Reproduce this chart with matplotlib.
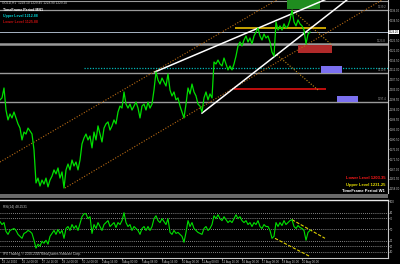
import numpy as np
import matplotlib
matplotlib.use("Agg")
import matplotlib.pyplot as plt
from matplotlib.patches import Rectangle
from matplotlib.ticker import FormatStrFormatter

# GOLD H1 closes, one value per sample
price = [1198.4, 1199.3, 1203.8, 1193.8, 1189.3, 1192.0, 1190.2, 1192.9, 1190.2, 1187.5,
         1185.6, 1180.2, 1183.8, 1182.9, 1185.6, 1184.3, 1182.9, 1175.7, 1160.7, 1162.9,
         1159.3, 1162.0, 1160.2, 1162.9, 1158.9, 1162.0, 1163.8, 1166.6, 1164.8, 1167.5,
         1162.9, 1165.7, 1158.4, 1166.6, 1169.3, 1166.6, 1171.1, 1168.4, 1170.2, 1166.6,
         1171.1, 1178.4, 1181.1, 1182.9, 1180.2, 1182.0, 1176.6, 1183.8, 1180.2, 1186.6,
         1182.9, 1179.3, 1185.6, 1187.5, 1188.4, 1184.7, 1186.6, 1189.3, 1187.5, 1192.9,
         1195.6, 1194.7, 1202.0, 1196.5, 1194.7, 1196.5, 1193.8, 1195.6, 1197.4, 1194.7,
         1190.2, 1195.6, 1196.5, 1193.8, 1197.4, 1194.7, 1196.5, 1202.9, 1211.1, 1207.4,
         1205.6, 1208.3, 1206.5, 1204.7, 1210.2, 1202.9, 1200.2, 1202.0, 1198.4, 1199.3,
         1195.6, 1192.9, 1190.2, 1196.5, 1203.8, 1201.1, 1205.6, 1202.0, 1200.2, 1196.5,
         1195.6, 1192.9, 1199.3, 1202.0, 1198.4, 1201.1, 1199.3, 1215.6, 1214.7, 1216.5,
         1214.7, 1213.8, 1217.4, 1214.7, 1212.0, 1213.8, 1212.0, 1214.7, 1218.3, 1222.9,
         1224.7, 1222.9, 1225.6, 1227.4, 1224.7, 1226.5, 1223.8, 1227.4, 1229.2, 1231.0,
         1227.4, 1225.6, 1228.3, 1226.5, 1227.4, 1224.7, 1220.1, 1218.3, 1233.8, 1230.1,
         1232.0, 1230.1, 1232.9, 1231.0, 1232.0, 1234.7, 1239.2, 1233.8, 1232.0, 1234.7,
         1232.9, 1232.0, 1230.1, 1223.8, 1228.3, 1229.2]

rsi = [64.0, 58.8, 62.3, 46.5, 41.3, 48.3, 50.0, 51.8, 48.3, 41.3,
       37.8, 34.3, 43.0, 44.8, 48.3, 46.5, 43.0, 30.8, 16.8, 23.8,
       20.3, 29.0, 25.5, 30.8, 23.8, 37.8, 43.0, 48.3, 41.3, 50.0,
       43.0, 48.3, 34.3, 51.8, 55.3, 48.3, 58.8, 51.8, 57.0, 48.3,
       60.5, 72.8, 78.0, 78.0, 69.3, 72.8, 43.0, 58.8, 51.8, 62.3,
       55.3, 48.3, 58.8, 62.3, 65.8, 55.3, 58.8, 62.3, 53.5, 62.3,
       58.8, 65.8, 79.8, 62.3, 55.3, 58.8, 48.3, 55.3, 51.8, 48.3,
       41.3, 51.8, 55.3, 48.3, 55.3, 48.3, 55.3, 69.3, 74.5, 65.8,
       62.3, 69.3, 64.0, 58.8, 69.3, 44.8, 41.3, 48.3, 43.0, 44.8,
       41.3, 37.8, 27.3, 44.8, 65.8, 55.3, 62.3, 51.8, 48.3, 44.8,
       43.0, 41.3, 51.8, 55.3, 48.3, 51.8, 58.8, 74.5, 69.3, 76.3,
       69.3, 65.8, 72.8, 67.5, 62.3, 65.8, 62.3, 69.3, 76.3, 69.3,
       72.8, 65.8, 62.3, 65.8, 58.8, 62.3, 55.3, 62.3, 58.8, 65.8,
       55.3, 51.8, 58.8, 55.3, 55.3, 48.3, 34.3, 37.8, 62.3, 55.3,
       62.3, 57.0, 65.8, 58.8, 62.3, 65.8, 67.5, 55.3, 51.8, 57.0,
       53.5, 51.8, 48.3, 30.8, 44.8, 48.3]

date_ticks = [1, 11, 21, 31, 41, 51, 61, 71, 81, 91, 101, 111, 121, 131, 141, 151]
date_labels = ["23 Jul 2010", "26 Jul 08:00", "27 Jul 16:00", "29 Jul 00:00",
               "30 Jul 08:00", "2 Aug 16:00", "4 Aug 00:00", "5 Aug 08:00",
               "6 Aug 16:00", "10 Aug 00:00", "11 Aug 08:00", "12 Aug 16:00",
               "16 Aug 00:00", "17 Aug 08:00", "18 Aug 16:00", "20 Aug 00:00"]

# levels
mn1_upper = 1212.88
mn1_lower = 1125.88
w1_upper = 1231.25
w1_lower = 1203.35
gray_levels = [1243.3, 1239.2, 1223.8, 1210.6, 1197.4]
gray_widths = [0.8, 0.9, 1.8, 1.0, 1.0]
last_price = 1229.20
rsi_levels = [80, 70, 50, 30, 20, 10]

# trend lines: (bar, price) pairs
wedge_upper = [(77.5, 1211.1), (161.0, 1243.3)]
wedge_lower = [(101.0, 1192.4), (171.5, 1242.4)]
chan_upper = [(0.0, 1170.2), (136.5, 1242.8)]
chan_lower = [(32.5, 1158.4), (191.0, 1243.75)]
fork_a = [(146.0, 1239.2), (166.0, 1223.3)]
fork_b = [(138.5, 1218.8), (159.0, 1202.9)]
rsi_line_a = [(146.0, 67.5), (162.5, 34.3)]
rsi_line_b = [(137.5, 34.3), (154.5, 2.8)]

# zones: (bar0, bar1, price0, price1, colour)
zones = [(143.5, 160.0, 1239.7, 1243.75, "#1f8c1f"),
         (149.0, 166.0, 1219.7, 1223.3, "#b02a2a"),
         (160.5, 171.0, 1210.6, 1213.8, "#7b70f0"),
         (168.5, 179.0, 1197.4, 1200.2, "#7b70f0")]

bg = "black"
fig = plt.figure(figsize=(4, 2.64), dpi=100, facecolor=bg)
ax = fig.add_axes([0, 1 - 193 / 264, 388 / 400, 193 / 264], facecolor=bg)
ax2 = fig.add_axes([0, 6 / 264, 388 / 400, 58 / 264], facecolor=bg)

x = np.arange(len(price))
xmax = 194

for i, (lv, lw) in enumerate(zip(gray_levels, gray_widths)):
    ax.axhline(lv, color="#9a9a9a", lw=lw, zorder=1)
    if i > 0:
        ax.text(xmax - 1, lv + 0.3, "%.1f" % lv, color="#9a9a9a", fontsize=1.8,
                ha="right", va="bottom")
ax.axhline(last_price, color="#a8b4c4", lw=0.7, zorder=1)
ax.hlines(mn1_upper, 42, xmax, color="#00b4b4", lw=0.9, linestyles=(0, (1, 1.2)), zorder=2)

for b0, b1, p0, p1, c in zones:
    ax.add_patch(Rectangle((b0, p0), b1 - b0, p1 - p0, color=c, lw=0, zorder=2))

ax.hlines(w1_upper, 117.5, 163, color="#e8c000", lw=1.2, zorder=3)
ax.hlines(w1_lower, 117, 163, color="#e01010", lw=1.2, zorder=3)


def ray(axis, pts, **kw):
    (x0, y0), (x1, y1) = pts
    s = (y1 - y0) / (x1 - x0)
    axis.plot([x0, 220], [y0, y0 + s * (220 - x0)], **kw)


ray(ax, chan_upper, color="#b86a14", lw=0.8, ls=(0, (1, 1.5)), zorder=2)
ray(ax, chan_lower, color="#b86a14", lw=0.8, ls=(0, (1, 1.5)), zorder=2)
ray(ax, wedge_upper, color="white", lw=1.1, zorder=4)
ray(ax, wedge_lower, color="white", lw=1.1, zorder=4)
for seg in (fork_a, fork_b):
    ax.plot([p[0] for p in seg], [p[1] for p in seg], color="#c8901c", lw=0.8,
            ls=(0, (1, 1.5)), zorder=3)

ax.plot(x, price, color="#00e000", lw=0.9, zorder=5)

ax.set_xlim(0, xmax)
ax.set_ylim(1156.13, 1243.75)
yt = [t for t in np.arange(1158.0, 1242.0, 4.5) if abs(t - last_price) > 2.5]
ax.yaxis.tick_right()
ax.set_yticks(yt)
ax.yaxis.set_major_formatter(FormatStrFormatter("%.2f"))
ax.tick_params(axis="y", colors="#c8c8c8", labelsize=2.0, length=1.0, width=0.5, pad=0.6,
               labelfontfamily="Liberation Sans")
ax.set_xticks([])
for s in ("top", "left", "bottom"):
    ax.spines[s].set_visible(False)
ax.spines["right"].set_color("#c8c8c8")
ax.spines["right"].set_linewidth(0.8)
ax.text(1.002, last_price, "%.2f" % last_price, transform=ax.get_yaxis_transform(),
        fontsize=2.0, color="black", va="center", ha="left", family="Liberation Sans",
        bbox=dict(boxstyle="square,pad=0.12", fc="white", ec="none"))

# RSI window
ax2.plot(np.arange(len(rsi)), rsi, color="#00e000", lw=0.8, zorder=3)
for lv in rsi_levels:
    ax2.axhline(lv, color="#b0b0b0", lw=0.6, ls=(0, (1, 1.5)), zorder=1)
for seg in (rsi_line_a, rsi_line_b):
    ax2.plot([p[0] for p in seg], [p[1] for p in seg], color="#e0d000", lw=0.8,
             ls=(0, (3, 1.5)), zorder=2)
ax2.set_xlim(0, xmax)
ax2.set_ylim(-0.75, 102.5)
ax2.yaxis.tick_right()
ax2.set_yticks([100] + rsi_levels)
ax2.tick_params(axis="y", colors="#c8c8c8", labelsize=2.0, length=1.0, width=0.5, pad=0.6,
                labelfontfamily="Liberation Sans")
ax2.set_xticks(date_ticks)
ax2.set_xticklabels(date_labels, ha="left")
ax2.tick_params(axis="x", colors="#c8c8c8", labelsize=2.1, length=1.2, width=0.5, pad=0.4,
                labelfontfamily="Liberation Sans")
ax2.spines["left"].set_visible(False)
ax2.spines["top"].set_color("#e8e8e8")
ax2.spines["top"].set_linewidth(1.0)
for s in ("right", "bottom"):
    ax2.spines[s].set_color("#c8c8c8")
    ax2.spines[s].set_linewidth(0.8)
ax2.text(0.008, 0.92, "RSI(14) 48.2531", transform=ax2.transAxes, color="#c8c8c8",
         fontsize=2.3, va="top", family="Liberation Sans")
ax2.text(0.008, 0.03, "IFX Trading, \u00a9 2000-2010 MetaQuotes Software Corp.",
         transform=ax2.transAxes, color="#c8c8c8", fontsize=2.3, va="bottom",
         family="Liberation Sans")

# window separator
fig.patches.append(Rectangle((0, 1 - 198 / 264), 388 / 400, 4 / 264, transform=fig.transFigure,
                             color="#6a6a6a", lw=0))


def ftxt(px, py, s, c, size, bold=False, ha="left"):
    fig.text(px / 400, 1 - py / 264, s, color=c, fontsize=size, ha=ha, va="center",
             family="Liberation Sans", fontweight="bold" if bold else "normal")


ftxt(2, 3, "GOLD,H1  1229.10 1229.45 1228.90 1229.20", "#c8c8c8", 2.3)
ftxt(3, 10, "TimeFrame Period MN1", "white", 2.6, True)
ftxt(3, 16, "Upper Level %.2f" % mn1_upper, "#00d8d8", 2.6, True)
ftxt(3, 22, "Lower Level %.2f" % mn1_lower, "#c81010", 2.6, True)
ftxt(385, 178, "Lower Level %.2f" % w1_lower, "#ff1a1a", 3.0, True, "right")
ftxt(385, 185, "Upper Level %.2f" % w1_upper, "#e8e000", 3.0, True, "right")
ftxt(385, 191, "TimeFrame Period W1", "white", 3.0, True, "right")

fig.savefig("out.png", dpi=100, facecolor=bg)
